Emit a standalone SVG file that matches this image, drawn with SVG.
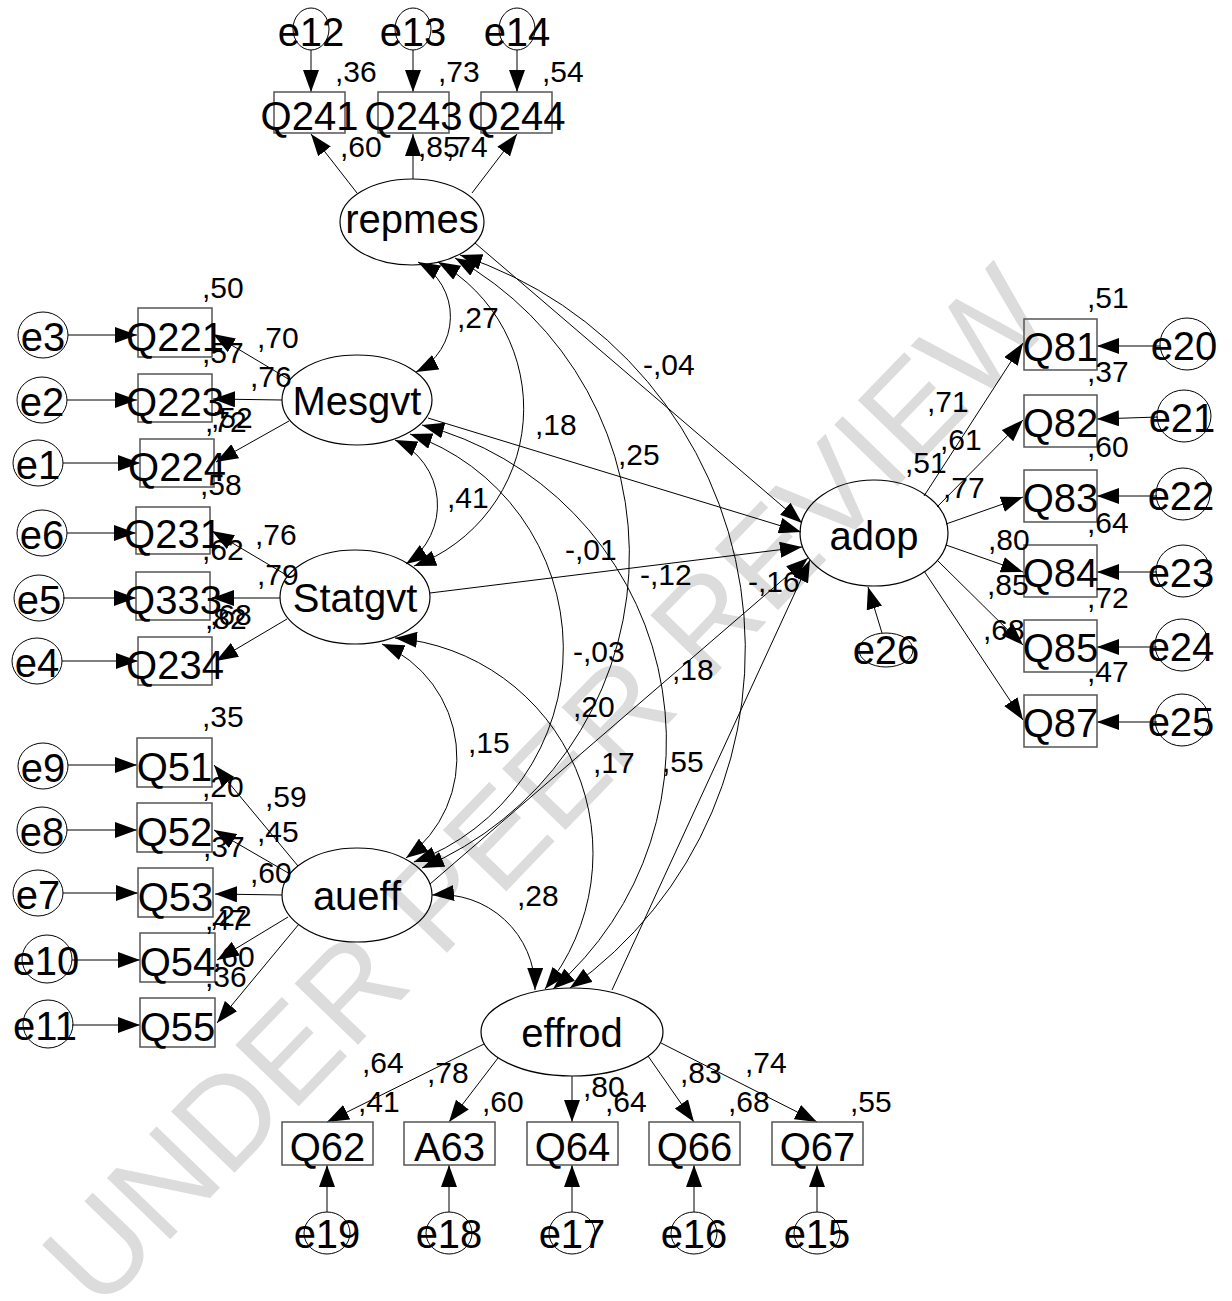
<svg xmlns="http://www.w3.org/2000/svg" width="1232" height="1301" viewBox="0 0 1232 1301">
<defs>
<style>
text{font-family:"Liberation Sans",Arial,sans-serif;fill:#000}
.big{font-size:40px;text-anchor:middle}
.sm{font-size:30px}
.lat{fill:none;stroke:#000;stroke-width:1.2}
.err{fill:none;stroke:#000;stroke-width:1}
.box{fill:none;stroke:#555;stroke-width:1.5}
.ln{fill:none;stroke:#000;stroke-width:1;marker-end:url(#ah)}
.cv{fill:none;stroke:#000;stroke-width:1;marker-start:url(#ah);marker-end:url(#ah)}
.wm{font-size:128px;fill:#dcdcdc;text-anchor:middle}
</style>
<marker id="ah" markerUnits="userSpaceOnUse" markerWidth="22" markerHeight="16" viewBox="0 0 22 16" refX="22" refY="8" orient="auto-start-reverse"><path d="M0,0L22,8L0,16Z" fill="#000"/></marker>
</defs>
<rect width="1232" height="1301" fill="#fff"/>
<text class="wm" transform="translate(545,785) rotate(-46)" x="0" y="46">UNDER PEER REVIEW</text>

<g id="connectors">
<path class="ln" d="M311,50V92"/>
<path class="ln" d="M413,50V92"/>
<path class="ln" d="M517,50V92"/>
<path class="ln" d="M357,193L311,134"/>
<path class="ln" d="M413,179V134"/>
<path class="ln" d="M472,193L517,134"/>
<path class="ln" d="M68,335H137"/>
<path class="ln" d="M67,400H137"/>
<path class="ln" d="M63,463H140"/>
<path class="ln" d="M67,533H136"/>
<path class="ln" d="M63,598H136"/>
<path class="ln" d="M62,661H138"/>
<path class="ln" d="M68,765H137"/>
<path class="ln" d="M67,830H137"/>
<path class="ln" d="M63,893H138"/>
<path class="ln" d="M72,960H140"/>
<path class="ln" d="M72,1025H140"/>
<path class="ln" d="M290,380L213,334"/>
<path class="ln" d="M282,400L213,399"/>
<path class="ln" d="M289,421L216,462"/>
<path class="ln" d="M288,576L212,531"/>
<path class="ln" d="M280,598L212,598"/>
<path class="ln" d="M287,619L216,661"/>
<path class="ln" d="M298,866L214,765"/>
<path class="ln" d="M290,874L214,830"/>
<path class="ln" d="M282,895L215,894"/>
<path class="ln" d="M288,917L217,960"/>
<path class="ln" d="M299,924L217,1023"/>
<path class="ln" d="M924,496L1023,343"/>
<path class="ln" d="M937,507L1023,420"/>
<path class="ln" d="M946,524L1023,497"/>
<path class="ln" d="M946,545L1023,572"/>
<path class="ln" d="M937,560L1023,645"/>
<path class="ln" d="M924,571L1023,720"/>
<path class="ln" d="M1160,346H1097"/>
<path class="ln" d="M1158,417L1097,419"/>
<path class="ln" d="M1157,496H1097"/>
<path class="ln" d="M1157,572H1097"/>
<path class="ln" d="M1157,647H1097"/>
<path class="ln" d="M1157,722H1097"/>
<path class="ln" d="M882,633L868,587"/>
<path class="ln" d="M484,1044L327,1122"/>
<path class="ln" d="M498,1058L449,1122"/>
<path class="ln" d="M572,1076V1122"/>
<path class="ln" d="M648,1056L694,1122"/>
<path class="ln" d="M661,1043L817,1122"/>
<path class="ln" d="M327,1212V1165"/>
<path class="ln" d="M449,1212V1165"/>
<path class="ln" d="M572,1212V1165"/>
<path class="ln" d="M694,1212V1165"/>
<path class="ln" d="M817,1212V1165"/>
<path class="ln" d="M475,243L802,523"/>
<path class="ln" d="M428,418L801,532"/>
<path class="ln" d="M430,593L802,547"/>
<path class="ln" d="M430,884L808,558"/>
<path class="ln" d="M612,990L810,560"/>
<path class="cv" d="M418,262A62,62 0 0 1 416,372"/>
<path class="cv" d="M395,440A71,71 0 0 1 406,564"/>
<path class="cv" d="M438,262A168,168 0 0 1 414,566"/>
<path class="cv" d="M455,258A340,340 0 0 1 422,868"/>
<path class="cv" d="M410,434A227,227 0 0 1 414,862"/>
<path class="cv" d="M382,644A124,124 0 0 1 406,858"/>
<path class="cv" d="M395,638A216,216 0 0 1 545,989"/>
<path class="cv" d="M422,425A327,327 0 0 1 553,989"/>
<path class="cv" d="M460,255A415,415 0 0 1 570,988"/>
<path class="cv" d="M432,895A94.5,94.5 0 0 1 535,990"/>
</g>

<g id="repmes"><ellipse class="lat" cx="412" cy="222" rx="72" ry="43"/><text class="big" x="412" y="233">repmes</text></g>
<g id="Mesgvt"><ellipse class="lat" cx="357" cy="400" rx="75" ry="45"/><text class="big" x="357" y="415" font-size="42">Mesgvt</text></g>
<g id="Statgvt"><ellipse class="lat" cx="355" cy="597" rx="75" ry="47"/><text class="big" x="355" y="612" font-size="42">Statgvt</text></g>
<g id="aueff"><ellipse class="lat" cx="357" cy="895" rx="75" ry="47"/><text class="big" x="357" y="910">aueff</text></g>
<g id="effrod"><ellipse class="lat" cx="572" cy="1032" rx="91" ry="44"/><text class="big" x="572" y="1047">effrod</text></g>
<g id="adop"><ellipse class="lat" cx="874" cy="533" rx="74" ry="53"/><text class="big" x="874" y="550">adop</text></g>

<g id="e12"><ellipse class="err" cx="311" cy="29" rx="18" ry="21"/><text class="big" x="311" y="46">e12</text></g>
<g id="e13"><ellipse class="err" cx="413" cy="29" rx="18" ry="21"/><text class="big" x="413" y="46">e13</text></g>
<g id="e14"><ellipse class="err" cx="517" cy="29" rx="18" ry="21"/><text class="big" x="517" y="46">e14</text></g>
<g id="Q241"><rect class="box" x="274" y="92" width="71" height="41"/><text class="big" x="309.5" y="130">Q241</text></g>
<g id="Q243"><rect class="box" x="378" y="92" width="71" height="41"/><text class="big" x="413.5" y="130">Q243</text></g>
<g id="Q244"><rect class="box" x="481" y="92" width="71" height="41"/><text class="big" x="516.5" y="130">Q244</text></g>

<g id="e3"><ellipse class="err" cx="43" cy="335" rx="25" ry="23"/><text class="big" x="43" y="351">e3</text></g>
<g id="e2"><ellipse class="err" cx="42" cy="400" rx="25" ry="23"/><text class="big" x="42" y="416">e2</text></g>
<g id="e1"><ellipse class="err" cx="38" cy="463" rx="25" ry="23"/><text class="big" x="38" y="479">e1</text></g>
<g id="e6"><ellipse class="err" cx="42" cy="533" rx="25" ry="23"/><text class="big" x="42" y="549">e6</text></g>
<g id="e5"><ellipse class="err" cx="39" cy="598" rx="25" ry="23"/><text class="big" x="39" y="614">e5</text></g>
<g id="e4"><ellipse class="err" cx="37" cy="661" rx="25" ry="23"/><text class="big" x="37" y="677">e4</text></g>
<g id="e9"><ellipse class="err" cx="43" cy="766" rx="25" ry="23"/><text class="big" x="43" y="782">e9</text></g>
<g id="e8"><ellipse class="err" cx="42" cy="830" rx="25" ry="23"/><text class="big" x="42" y="846">e8</text></g>
<g id="e7"><ellipse class="err" cx="38" cy="893" rx="25" ry="23"/><text class="big" x="38" y="909">e7</text></g>
<g id="e10"><ellipse class="err" cx="47" cy="959" rx="25" ry="24"/><text class="big" x="46" y="975">e10</text></g>
<g id="e11"><ellipse class="err" cx="48" cy="1024" rx="25" ry="24"/><text class="big" x="45" y="1040">e11</text></g>

<g id="Q221"><rect class="box" x="138" y="308" width="74" height="49"/><text class="big" x="175" y="351">Q221</text></g>
<g id="Q223"><rect class="box" x="138" y="374" width="74" height="48"/><text class="big" x="175" y="416">Q223</text></g>
<g id="Q224"><rect class="box" x="140" y="439" width="74" height="48"/><text class="big" x="177" y="481">Q224</text></g>
<g id="Q231"><rect class="box" x="136" y="507" width="74" height="47"/><text class="big" x="173" y="548">Q231</text></g>
<g id="Q333"><rect class="box" x="136" y="572" width="74" height="48"/><text class="big" x="173" y="614">Q333</text></g>
<g id="Q234"><rect class="box" x="138" y="637" width="74" height="48"/><text class="big" x="175" y="679">Q234</text></g>
<g id="Q51"><rect class="box" x="137" y="738" width="75" height="49"/><text class="big" x="174.5" y="781">Q51</text></g>
<g id="Q52"><rect class="box" x="137" y="803" width="75" height="49"/><text class="big" x="174.5" y="846">Q52</text></g>
<g id="Q53"><rect class="box" x="138" y="868" width="75" height="49"/><text class="big" x="175.5" y="911">Q53</text></g>
<g id="Q54"><rect class="box" x="140" y="933" width="75" height="49"/><text class="big" x="177.5" y="976">Q54</text></g>
<g id="Q55"><rect class="box" x="140" y="998" width="75" height="49"/><text class="big" x="177.5" y="1041">Q55</text></g>

<g id="Q81"><rect class="box" x="1024" y="319" width="73" height="51"/><text class="big" x="1060.5" y="361">Q81</text></g>
<g id="Q82"><rect class="box" x="1024" y="395" width="73" height="52"/><text class="big" x="1060.5" y="437">Q82</text></g>
<g id="Q83"><rect class="box" x="1024" y="470" width="73" height="52"/><text class="big" x="1060.5" y="512">Q83</text></g>
<g id="Q84"><rect class="box" x="1024" y="545" width="73" height="52"/><text class="big" x="1060.5" y="587">Q84</text></g>
<g id="Q85"><rect class="box" x="1024" y="620" width="73" height="52"/><text class="big" x="1060.5" y="662">Q85</text></g>
<g id="Q87"><rect class="box" x="1024" y="695" width="73" height="52"/><text class="big" x="1060.5" y="737">Q87</text></g>
<g id="e20"><ellipse class="err" cx="1187" cy="344" rx="27" ry="26"/><text class="big" x="1184" y="360">e20</text></g>
<g id="e21"><ellipse class="err" cx="1184" cy="416" rx="27" ry="26"/><text class="big" x="1182" y="432">e21</text></g>
<g id="e22"><ellipse class="err" cx="1183" cy="494" rx="27" ry="26"/><text class="big" x="1181" y="510">e22</text></g>
<g id="e23"><ellipse class="err" cx="1183" cy="571" rx="27" ry="26"/><text class="big" x="1181" y="587">e23</text></g>
<g id="e24"><ellipse class="err" cx="1182" cy="645" rx="27" ry="26"/><text class="big" x="1181" y="661">e24</text></g>
<g id="e25"><ellipse class="err" cx="1182" cy="720" rx="27" ry="26"/><text class="big" x="1181" y="736">e25</text></g>
<g id="e26"><ellipse class="err" cx="886" cy="650" rx="27" ry="17"/><text class="big" x="886" y="664">e26</text></g>

<g id="Q62"><rect class="box" x="282" y="1122" width="91" height="43"/><text class="big" x="327.5" y="1161">Q62</text></g>
<g id="A63"><rect class="box" x="404" y="1122" width="91" height="43"/><text class="big" x="449.5" y="1161">A63</text></g>
<g id="Q64"><rect class="box" x="527" y="1122" width="91" height="43"/><text class="big" x="572.5" y="1161">Q64</text></g>
<g id="Q66"><rect class="box" x="649" y="1122" width="91" height="43"/><text class="big" x="694.5" y="1161">Q66</text></g>
<g id="Q67"><rect class="box" x="772" y="1122" width="91" height="43"/><text class="big" x="817.5" y="1161">Q67</text></g>
<g id="e19"><ellipse class="err" cx="327" cy="1233" rx="23" ry="21"/><text class="big" x="327" y="1248">e19</text></g>
<g id="e18"><ellipse class="err" cx="449" cy="1233" rx="23" ry="21"/><text class="big" x="449" y="1248">e18</text></g>
<g id="e17"><ellipse class="err" cx="572" cy="1233" rx="23" ry="21"/><text class="big" x="572" y="1248">e17</text></g>
<g id="e16"><ellipse class="err" cx="694" cy="1233" rx="23" ry="21"/><text class="big" x="694" y="1248">e16</text></g>
<g id="e15"><ellipse class="err" cx="817" cy="1233" rx="23" ry="21"/><text class="big" x="817" y="1248">e15</text></g>

<g id="labels">
<text class="sm" x="335" y="82">,36</text><text class="sm" x="438" y="82">,73</text><text class="sm" x="542" y="82">,54</text>
<text class="sm" x="340" y="157">,60</text><text class="sm" x="418" y="157">,85</text><text class="sm" x="446" y="157">,74</text>
<text class="sm" x="202" y="298">,50</text><text class="sm" x="257" y="348">,70</text><text class="sm" x="202" y="363">,57</text><text class="sm" x="250" y="387">,76</text>
<text class="sm" x="211" y="428">,52</text><text class="sm" x="205" y="432">,72</text><text class="sm" x="200" y="495">,58</text>
<text class="sm" x="255" y="545">,76</text><text class="sm" x="202" y="560">,62</text><text class="sm" x="257" y="585">,79</text>
<text class="sm" x="210" y="625">,68</text><text class="sm" x="205" y="629">,82</text>
<text class="sm" x="202" y="727">,35</text><text class="sm" x="202" y="797">,20</text><text class="sm" x="265" y="807">,59</text>
<text class="sm" x="257" y="842">,45</text><text class="sm" x="203" y="857">,37</text><text class="sm" x="250" y="883">,60</text>
<text class="sm" x="210" y="926">,22</text><text class="sm" x="205" y="930">,47</text><text class="sm" x="213" y="967">,60</text><text class="sm" x="205" y="987">,36</text>
<text class="sm" x="1087" y="308">,51</text><text class="sm" x="1087" y="382">,37</text><text class="sm" x="1087" y="457">,60</text>
<text class="sm" x="1087" y="533">,64</text><text class="sm" x="1087" y="608">,72</text><text class="sm" x="1087" y="682">,47</text>
<text class="sm" x="927" y="412">,71</text><text class="sm" x="940" y="450">,61</text><text class="sm" x="905" y="473">,51</text>
<text class="sm" x="943" y="498">,77</text><text class="sm" x="988" y="550">,80</text><text class="sm" x="987" y="595">,85</text><text class="sm" x="983" y="640">,68</text>
<text class="sm" x="362" y="1073">,64</text><text class="sm" x="427" y="1083">,78</text><text class="sm" x="358" y="1112">,41</text>
<text class="sm" x="482" y="1112">,60</text><text class="sm" x="583" y="1097">,80</text><text class="sm" x="605" y="1112">,64</text>
<text class="sm" x="680" y="1083">,83</text><text class="sm" x="745" y="1073">,74</text><text class="sm" x="728" y="1112">,68</text><text class="sm" x="850" y="1112">,55</text>
<text class="sm" x="457" y="328">,27</text><text class="sm" x="447" y="508">,41</text><text class="sm" x="535" y="435">,18</text>
<text class="sm" x="618" y="465">,25</text><text class="sm" x="643" y="375">-,04</text><text class="sm" x="565" y="560">-,01</text>
<text class="sm" x="640" y="585">-,12</text><text class="sm" x="748" y="592">-,16</text><text class="sm" x="573" y="662">-,03</text>
<text class="sm" x="672" y="680">,18</text><text class="sm" x="573" y="717">,20</text><text class="sm" x="468" y="753">,15</text>
<text class="sm" x="593" y="773">,17</text><text class="sm" x="662" y="772">,55</text><text class="sm" x="517" y="906">,28</text>
</g>
</svg>
